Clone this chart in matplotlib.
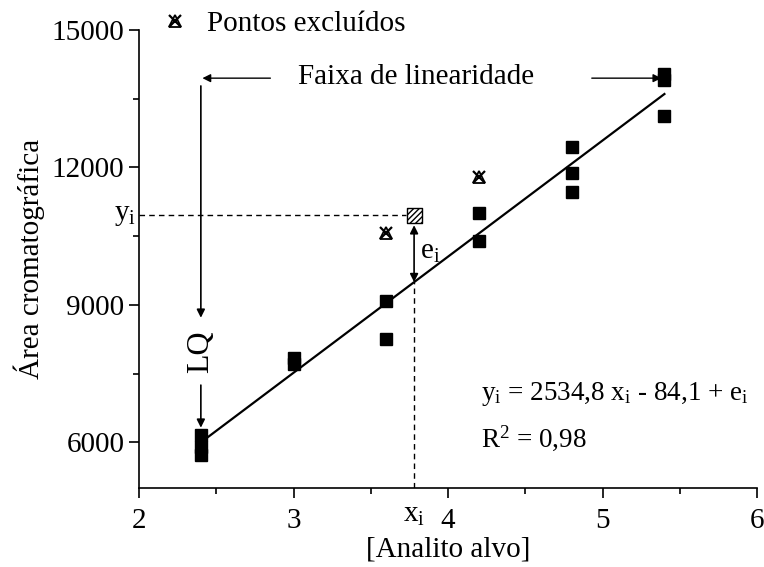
import matplotlib
matplotlib.use('Agg')
import matplotlib.pyplot as plt
from matplotlib.lines import Line2D
from matplotlib.legend_handler import HandlerTuple
from matplotlib.ticker import MultipleLocator

plt.rcParams['font.family'] = ['Liberation Serif', 'DejaVu Serif']
plt.rcParams['mathtext.default'] = 'regular'

# calibration points kept in the fit
conc = [2.4, 2.4, 2.4, 3.0, 3.0, 3.6, 3.6, 4.2, 4.2, 4.8, 4.8, 4.8, 5.4, 5.4, 5.4]
area = [6170, 5890, 5730, 7850, 7700, 9080, 8260, 11010, 10400, 12450, 11890, 11460, 14030, 13920, 13130]

# points removed as outliers
excl_conc = [3.6, 4.2]
excl_area = [10560, 11800]

# fitted model y = a*x + b
slope = 2534.8
intercept = -84.1
fit_range = [2.4, 5.4]

# example residual point
xi = 3.78
yi = 10960

fig, ax = plt.subplots(figsize=(7.64, 5.67), dpi=100)
fig.subplots_adjust(left=0.182, right=0.991, top=0.947, bottom=0.139)

fs = 21

fit_y = [slope * x + intercept for x in fit_range]
ax.plot(fit_range, fit_y, color='black', lw=1.6, zorder=2)

ax.plot(conc, area, 's', color='black', ms=8.5, zorder=3)

ax.plot(excl_conc, excl_area, 'x', color='black', ms=8, mew=1.6, zorder=3)
ax.plot(excl_conc, excl_area, '^', mfc='none', mec='black', ms=8, mew=1.3, zorder=3)

ax.scatter([xi], [yi], marker='s', s=115, facecolor='white', edgecolor='black',
           hatch='//////', linewidths=1.0, zorder=4)

# residual e_i and dashed guides
yfit_i = slope * xi + intercept
ax.plot([2, xi - 0.05], [yi, yi], ls=(0, (4, 3)), color='black', lw=1.0, clip_on=False)
ax.plot([xi, xi], [5000, yfit_i], ls=(0, (4, 3)), color='black', lw=1.0)
ax.annotate('', xy=(xi, yfit_i), xytext=(xi, yi - 220),
            arrowprops=dict(arrowstyle='<|-|>', color='black', lw=1.2,
                            mutation_scale=12, shrinkA=0, shrinkB=0))
ax.text(xi + 0.04, 10150, 'e$_i$', fontsize=fs, va='center', ha='left')

# linear range arrows
ax.annotate('', xy=(2.41, 13950), xytext=(2.85, 13950),
            arrowprops=dict(arrowstyle='-|>', color='black', lw=1.0,
                            mutation_scale=12, shrinkA=0, shrinkB=0))
ax.annotate('', xy=(5.38, 13950), xytext=(4.93, 13950),
            arrowprops=dict(arrowstyle='-|>', color='black', lw=1.0,
                            mutation_scale=12, shrinkA=0, shrinkB=0))
ax.text(3.79, 13970, 'Faixa de linearidade', fontsize=fs, ha='center', va='center')

# limit of quantification
ax.annotate('', xy=(2.4, 8720), xytext=(2.4, 13780),
            arrowprops=dict(arrowstyle='-|>', color='black', lw=1.2,
                            mutation_scale=12, shrinkA=0, shrinkB=0))
ax.text(2.4, 7980, 'LQ', fontsize=fs + 2, rotation=90, ha='center', va='center')
ax.annotate('', xy=(2.4, 6320), xytext=(2.4, 7250),
            arrowprops=dict(arrowstyle='-|>', color='black', lw=1.2,
                            mutation_scale=12, shrinkA=0, shrinkB=0))

ax.text(4.21, 7060, 'y$_i$ = 2534,8 x$_i$ - 84,1 + e$_i$', fontsize=19.5, ha='left', va='center')
ax.text(4.21, 6090, 'R$^2$ = 0,98', fontsize=19.5, ha='left', va='center')

# axes styling
ax.set_xlim(2, 6)
ax.set_ylim(5000, 15000)
ax.spines['top'].set_visible(False)
ax.spines['right'].set_visible(False)
ax.spines['left'].set_linewidth(1.2)
ax.spines['bottom'].set_linewidth(1.2)
ax.xaxis.set_major_locator(MultipleLocator(1))
ax.xaxis.set_minor_locator(MultipleLocator(0.5))
ax.set_yticks([6000, 9000, 12000, 15000])
ax.yaxis.set_minor_locator(MultipleLocator(1500))
ax.tick_params(which='major', direction='out', length=7, width=1.2, labelsize=fs)
ax.tick_params(axis='x', which='major', pad=7)
ax.tick_params(which='minor', direction='out', length=4, width=1.2)

ax.text(1.98, yi, 'y$_i$', fontsize=fs, ha='right', va='center')
ax.text(xi, 4700, 'x$_i$', fontsize=fs, ha='center', va='top')

ax.set_xlabel('[Analito alvo]', fontsize=fs, labelpad=2)
ax.set_ylabel('Área cromatográfica', fontsize=fs, labelpad=5)

# legend for excluded points
h = (Line2D([], [], ls='none', marker='x', color='black', ms=8, mew=1.6),
     Line2D([], [], ls='none', marker='^', mfc='none', mec='black', ms=8, mew=1.3))
ax.legend([h], ['Pontos excluídos'], handler_map={tuple: HandlerTuple(ndivide=1)},
          loc='lower left', bbox_to_anchor=(0.035, 0.985), frameon=False,
          fontsize=fs, handlelength=1.0, handletextpad=0.6, borderaxespad=0,
          borderpad=0)

fig.savefig('out.png', dpi=100)
